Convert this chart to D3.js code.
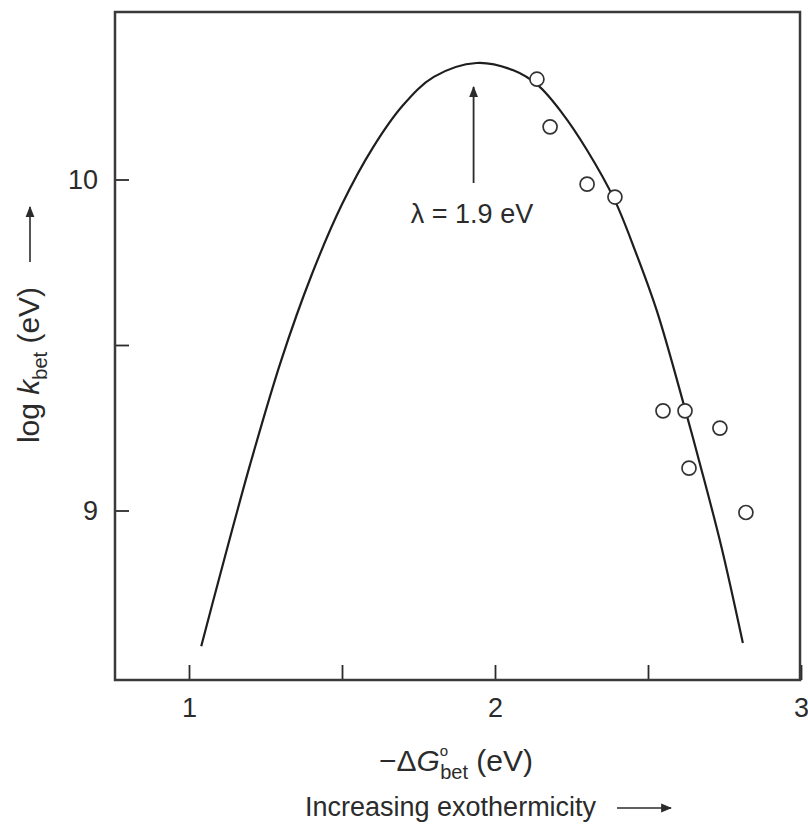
<!DOCTYPE html>
<html>
<head>
<meta charset="utf-8">
<script src="https://cdn.jsdelivr.net/npm/d3@7"></script>
<style>
  html, body { margin: 0; padding: 0; background: #fff; }
  svg { display: block; font-family: "Liberation Sans", Arial, sans-serif; }
</style>
</head>
<body>
<div id="chart"></div>
<script>
// fitted Marcus curve
const curveX = [1.04, 1.10, 1.20, 1.30, 1.40, 1.50, 1.60, 1.70, 1.80, 1.94,
                2.06, 2.14, 2.22, 2.30, 2.39, 2.46, 2.53, 2.62, 2.67, 2.74, 2.81];
const curveY = [8.59, 8.80, 9.14, 9.45, 9.71, 9.925, 10.095, 10.225, 10.31, 10.352,
                10.33, 10.285, 10.20, 10.09, 9.94, 9.78, 9.60, 9.31, 9.14, 8.89, 8.60];

// measured points
const pointX = [2.137, 2.180, 2.301, 2.392, 2.549, 2.621, 2.735, 2.634, 2.820];
const pointY = [10.303, 10.159, 9.986, 9.947, 9.301, 9.301, 9.249, 9.128, 8.994];

const xTicks = [1, 1.5, 2, 2.5, 3];
const yTicks = [9, 9.5, 10];
const lambda = 1.93;
const lambdaLabel = "λ = 1.9 eV";

const W = 808, H = 825;
const frameL = 115, frameR = 800, frameT = 12, frameB = 680;

const svg = d3.select("#chart").append("svg")
    .attr("width", W)
    .attr("height", H);

const x = d3.scaleLinear().domain([1, 3]).range([189, 801]);
const y = d3.scaleLinear().domain([9, 10]).range([510.5, 179.5]);

const ink = "#2b2b2b";

// x axis (ticks point inward)
const xAxis = svg.append("g")
    .attr("transform", `translate(0,${frameB})`)
    .call(d3.axisBottom(x).tickValues(xTicks).tickSize(-15).tickPadding(18)
        .tickFormat(d => Number.isInteger(d) ? d : ""));
xAxis.select(".domain").remove();
xAxis.selectAll("line").attr("stroke", ink).attr("stroke-width", 1.8);
xAxis.selectAll("text").attr("font-size", 27).attr("fill", ink).attr("font-family", null);

// y axis
const yAxis = svg.append("g")
    .attr("transform", `translate(${frameL},0)`)
    .call(d3.axisLeft(y).tickValues(yTicks).tickSize(-14).tickPadding(17)
        .tickFormat(d => Number.isInteger(d) ? d : ""));
yAxis.select(".domain").remove();
yAxis.selectAll("line").attr("stroke", ink).attr("stroke-width", 1.8);
yAxis.selectAll("text").attr("font-size", 27).attr("fill", ink).attr("font-family", null);

// frame
svg.append("rect")
    .attr("x", frameL).attr("y", frameT)
    .attr("width", frameR - frameL).attr("height", frameB - frameT)
    .attr("fill", "none").attr("stroke", "#3a3a3a").attr("stroke-width", 2.5);

// curve
const curveData = curveX.map((v, i) => [v, curveY[i]]);
const line = d3.line()
    .x(d => x(d[0]))
    .y(d => y(d[1]))
    .curve(d3.curveCatmullRom.alpha(0.5));

svg.append("path")
    .datum(curveData)
    .attr("d", line)
    .attr("fill", "none")
    .attr("stroke", "#1e1e1e")
    .attr("stroke-width", 2.2);

// data points
svg.selectAll("circle.pt")
    .data(pointX.map((v, i) => [v, pointY[i]]))
    .join("circle")
    .attr("class", "pt")
    .attr("cx", d => x(d[0]))
    .attr("cy", d => y(d[1]))
    .attr("r", 7)
    .attr("fill", "#fff")
    .attr("stroke", "#333")
    .attr("stroke-width", 1.7);

// arrow markers
const defs = svg.append("defs");
defs.append("marker")
    .attr("id", "head")
    .attr("viewBox", "0 0 10 10")
    .attr("refX", 9).attr("refY", 5)
    .attr("markerWidth", 11).attr("markerHeight", 11)
    .attr("markerUnits", "userSpaceOnUse")
    .attr("orient", "auto")
    .append("path")
    .attr("d", "M0,1 L10,5 L0,9 Z")
    .attr("fill", ink);

// lambda annotation
svg.append("line")
    .attr("x1", x(lambda)).attr("x2", x(lambda))
    .attr("y1", 183).attr("y2", 87)
    .attr("stroke", ink).attr("stroke-width", 1.8)
    .attr("marker-end", "url(#head)");

svg.append("text")
    .attr("x", 472).attr("y", 223)
    .attr("text-anchor", "middle")
    .attr("font-size", 27)
    .attr("fill", ink)
    .text(lambdaLabel);

// x axis label
const xl = svg.append("text")
    .attr("x", 456).attr("y", 771)
    .attr("text-anchor", "middle")
    .attr("font-size", 30)
    .attr("fill", ink);
xl.append("tspan").text("−Δ");
xl.append("tspan").attr("font-style", "italic").text("G");
xl.append("tspan").attr("font-size", 15).attr("dy", -15).text("o");
xl.append("tspan").attr("font-size", 20).attr("dx", -8).attr("dy", 23).text("bet");
xl.append("tspan").attr("dy", -8).text(" (eV)");

svg.append("text")
    .attr("x", 305).attr("y", 816)
    .attr("font-size", 27)
    .attr("fill", ink)
    .text("Increasing exothermicity");

svg.append("line")
    .attr("x1", 617).attr("x2", 671)
    .attr("y1", 808).attr("y2", 808)
    .attr("stroke", ink).attr("stroke-width", 1.6)
    .attr("marker-end", "url(#head)");

// y axis label
const yl = svg.append("text")
    .attr("transform", "translate(39,365) rotate(-90)")
    .attr("text-anchor", "middle")
    .attr("font-size", 30)
    .attr("fill", ink);
yl.append("tspan").text("log ");
yl.append("tspan").attr("font-style", "italic").text("k");
yl.append("tspan").attr("font-size", 20).attr("dy", 8).text("bet");
yl.append("tspan").attr("dy", -8).text(" (eV)");

svg.append("line")
    .attr("x1", 30).attr("x2", 30)
    .attr("y1", 262).attr("y2", 207)
    .attr("stroke", ink).attr("stroke-width", 1.6)
    .attr("marker-end", "url(#head)");
</script>
</body>
</html>
